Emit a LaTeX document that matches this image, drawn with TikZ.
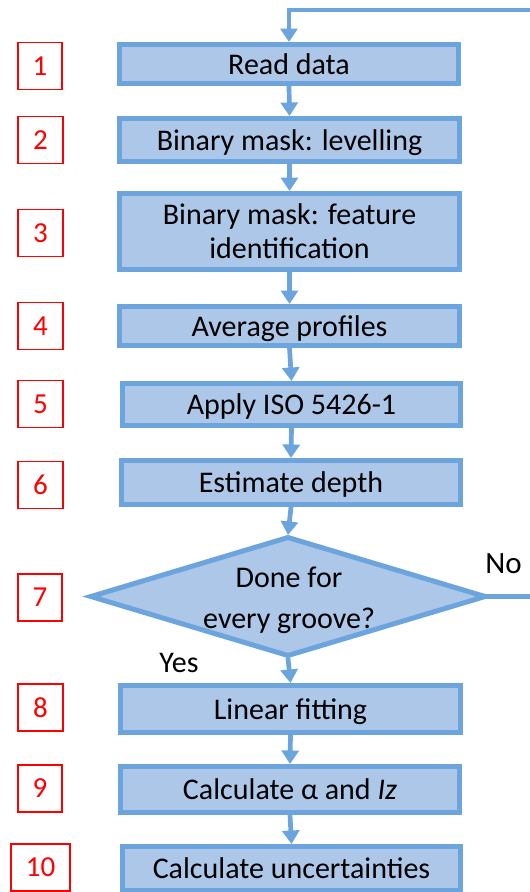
\documentclass[tikz,border=0pt]{standalone}
\usepackage{fontspec}
\setmainfont{Carlito}
\usetikzlibrary{arrows.meta}
\definecolor{boxfill}{RGB}{173,199,232}
\definecolor{boxline}{RGB}{108,165,221}
\definecolor{lblred}{RGB}{255,0,0}
\begin{document}
\begin{tikzpicture}[x=1pt,y=-1pt,
  stepbox/.style={draw=boxline, fill=boxfill, line width=5pt, inner sep=0pt,
    font=\fontsize{30}{36}\selectfont, text height=24pt, text depth=4pt, minimum width=339pt},
  twoline/.style={draw=boxline, fill=boxfill, line width=5pt, inner sep=0pt,
    font=\fontsize{30}{34.3}\selectfont, align=center, minimum width=340pt},
  numbox/.style={draw=lblred, line width=1.8pt, text=lblred, font=\fontsize{29}{34}\selectfont,
    minimum width=44.7pt, minimum height=47pt, inner sep=0pt},
  conn/.style={draw=boxline, line width=4.7pt, -{Triangle[width=17pt,length=13.5pt]}},
  decision/.style={draw=boxline, fill=boxfill, line width=5pt, line join=miter},
  lbl/.style={font=\fontsize{30}{36}\selectfont, anchor=base, inner sep=0pt}
]
\useasboundingbox (0,0) rectangle (530,892);
\clip (0,0) rectangle (530,892);

% process boxes
\node[stepbox, minimum height=39pt] (b1) at (289,64) {Read data};
\node[stepbox, minimum width=340pt, minimum height=43pt] (b2) at (289.5,140) {Binary mask: levelling};
\node[twoline, minimum height=76pt] (b3) at (289.5,231.5) {Binary mask: feature\\identification};
\node[stepbox, minimum width=340pt, minimum height=39pt] (b4) at (289.5,326) {Average profiles};
\node[stepbox, minimum width=338pt, minimum height=42pt] (b5) at (291.5,404.5) {Apply ISO 5426-1};
\node[stepbox, minimum height=44pt] (b6) at (291,482.5) {Estimate depth};

% decision diamond
\coordinate (dl) at (91,596.5);
\coordinate (dtp) at (288,537.5);
\coordinate (dr) at (485,596.5);
\coordinate (db) at (288,655.5);
\coordinate (dtop) at (288,535);
\coordinate (dbot) at (288,658);
\path[decision] (dl) -- (dtp) -- (dr) -- (db) -- cycle;
\node[align=center, font=\fontsize{30}{41}\selectfont, inner sep=0pt] (d) at (289,600) {Done for\\every groove?};

\node[stepbox, minimum width=340pt, minimum height=47pt] (b8) at (290.5,709) {Linear fitting};
\node[stepbox, minimum height=46pt] (b9) at (290,789.5) {Calculate α and \textit{Iz}};
\node[stepbox, minimum width=338pt, minimum height=44pt] (b10) at (291.5,868.5) {Calculate uncertainties};

% step numbers
\node[numbox] (n1) at (40,66) {1};
\node[numbox] (n2) at (40.5,140) {2};
\node[numbox] (n3) at (40.5,233) {3};
\node[numbox] (n4) at (40.5,326) {4};
\node[numbox] (n5) at (40.5,404) {5};
\node[numbox] (n6) at (40.5,485) {6};
\node[numbox] (n7) at (40,597.5) {7};
\node[numbox] (n8) at (40.5,707.5) {8};
\node[numbox] (n9) at (40,788.5) {9};
\node[numbox, minimum width=59pt] (n10) at (40.5,867.5) {10};

% branch labels
\node[lbl, font=\fontsize{31}{36}\selectfont] (no) at (503.5,573) {No};
\node[lbl] (yes) at (179,672) {Yes};

% connectors
\draw[conn] (b1.south) -- (b2.north);
\draw[conn] (b2.south) -- (b3.north);
\draw[conn] (b3.south) -- (b4.north);
\draw[conn] (b4.south) -- (b5.north);
\draw[conn] (b5.south) -- (b6.north);
\draw[conn] (b6.south) -- (dtop);
\draw[conn] (dbot) -- (b8.north);
\draw[conn] (b8.south) -- (b9.north);
\draw[conn] (b9.south) -- (b10.north);

\coordinate (r1) at (545,596.5);
\coordinate (r2) at (545,10);
\coordinate (t1) at (289,10);
\draw[conn] (dr) -- (r1) -- (r2) -- (t1) -- (b1.north);
\end{tikzpicture}
\end{document}
